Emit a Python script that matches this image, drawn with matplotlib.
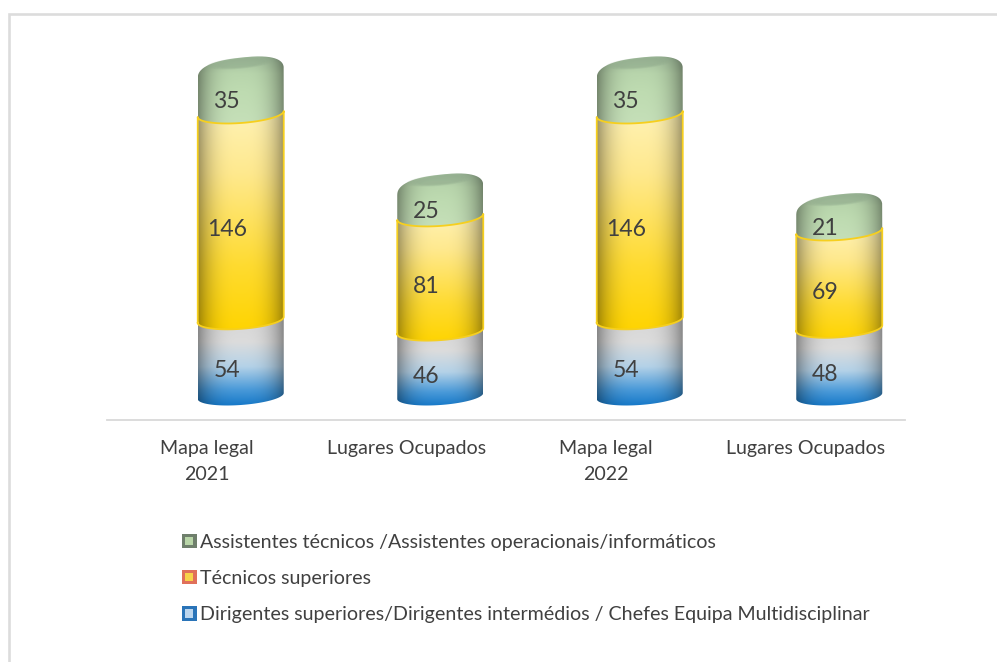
import numpy as np
import matplotlib
matplotlib.use("Agg")
import matplotlib.pyplot as plt
from matplotlib.path import Path
from matplotlib.patches import PathPatch, Rectangle, Patch
from matplotlib.legend_handler import HandlerBase
from matplotlib.colors import to_rgb

plt.rcParams['font.family'] = ['Lato', 'DejaVu Sans']

categories = ["Mapa legal\n2021", "Lugares Ocupados", "Mapa legal\n2022", "Lugares Ocupados"]
dirigentes = [54, 46, 54, 48]
tecnicos = [146, 81, 146, 69]
assistentes = [35, 25, 35, 21]
series_names = ["Assistentes técnicos /Assistentes operacionais/informáticos",
                "Técnicos superiores",
                "Dirigentes superiores/Dirigentes intermédios / Chefes Equipa Multidisciplinar"]
legend_outer = ["#6f7f6c", "#e0705a", "#2a74b8"]
legend_inner = ["#b9d6a8", "#f7d34a", "#bcd6ee"]

W, H = 997, 662
fig = plt.figure(figsize=(W/100, H/100), dpi=100, facecolor="white")
ax = fig.add_axes([107/W, 1-420/H, 798/W, 380/H])
PX_PER_UNIT = 1.41
BASE_PX = 24
ylim = (-BASE_PX/PX_PER_UNIT, (380-BASE_PX)/PX_PER_UNIT)
xlim = (-0.5, 3.5)
PX_X = 199.5
dx = 34/PX_X          # 3D depth shift of the bars
hw = 43/PX_X          # half width
eh = 9/PX_PER_UNIT    # ellipse half height
tilt = 3/PX_PER_UNIT  # right side higher than left


def arc(cx, cy, reverse=False):
    t = np.linspace(np.pi, 2*np.pi, 60)
    x = cx + hw*np.cos(t)
    y = cy + eh*np.sin(t) + tilt*np.cos(t)
    pts = np.column_stack([x, y])
    return pts[::-1] if reverse else pts


def dome(cx, cy, rise, n=2.5):
    """Rounded top, right side to left side, as a tilted superellipse."""
    t = np.linspace(0, np.pi, 160)
    c, s = np.cos(t), np.sin(t)
    u = np.sign(c)*np.abs(c)**(2/n)
    v = np.abs(s)**(2/n)
    return np.column_stack([cx + hw*u, cy + rise*v + 1.6*tilt*u])


def shade(stops, edge_dark=0.62, ny=200, nx=120):
    pos = [s[0] for s in stops]
    cols = np.array([to_rgb(s[1]) for s in stops])
    v = np.linspace(0, 1, ny)
    img = np.stack([np.interp(v, pos, cols[:, k]) for k in range(3)], axis=-1)
    u = np.linspace(-1, 1, nx)
    f = 1 - (1-edge_dark)*np.abs(u)**3.0
    return np.clip(img[:, None, :]*f[None, :, None], 0, 1)


def draw_image(img, path, x0, x1, y0, y1, z):
    patch = PathPatch(path, transform=ax.transData, fc="none", ec="none")
    ax.add_patch(patch)
    im = ax.imshow(img, extent=[x0, x1, y0, y1], origin="lower", aspect="auto",
                   zorder=z, interpolation="bilinear")
    im.set_clip_path(patch)


green = [(0, "#c6e0b9"), (0.5, "#bedbb1"), (0.75, "#b8d5ac"), (0.9, "#aac6a2"), (1, "#9ab596")]
gold = [(0, "#ffd400"), (0.3, "#ffdb30"), (0.72, "#ffe98e"), (1, "#fff2b4")]
blue = [(0, "#0f74c6"), (0.2, "#4a9ad9"), (0.45, "#b4d2e8"), (0.72, "#dcdcdc"), (1, "#d6d6d6")]

for i in range(len(categories)):
    cx = i + dx
    vals = [dirigentes[i], tecnicos[i], assistentes[i]]
    stops = [blue, gold, green]
    bottom = 0
    for j, v in enumerate(vals):
        top = bottom + v
        lo = arc(cx, bottom)
        if j < 2:
            up = arc(cx, top, reverse=True)
            ymax = top + tilt
        else:
            up = dome(cx, top - 9/PX_PER_UNIT, 16/PX_PER_UNIT)
            ymax = top + 8/PX_PER_UNIT
        pts = np.vstack([lo, up, lo[:1]])
        draw_image(shade(stops[j]), Path(pts), cx-hw, cx+hw, bottom-eh-tilt, ymax, 2+j)
        bottom = top
    # darker, soft inner top of the dome
    t = np.linspace(0, 2*np.pi, 120)
    for scale in (1.0, 0.9, 0.8, 0.7):
        capx = cx + scale*0.78*hw*np.cos(t)
        capy = bottom + 1.5/PX_PER_UNIT + scale*0.62*eh*np.sin(t) + tilt*scale*np.cos(t)
        ax.fill(capx, capy, color="#90aa8c", alpha=0.2, lw=0, zorder=7)
    # gold rims of the middle segment
    b0 = dirigentes[i]
    b1 = b0 + tecnicos[i]
    rim = np.vstack([arc(cx, b0), arc(cx, b1, reverse=True), arc(cx, b0)[:1]])
    ax.plot(rim[:, 0], rim[:, 1], color="#f6cf1e", lw=1.3, zorder=6, solid_joinstyle="round")
    # value labels
    running = 0
    for j, v in enumerate(vals):
        ax.annotate(str(v), (i + 20/PX_X, running + v/2), xytext=(0, -9), textcoords="offset points",
                    ha="center", va="center", fontsize=16.6, color="#404040", zorder=9)
        running += v

ax.set_xlim(*xlim)
ax.set_ylim(*ylim)
ax.set_xticks(range(len(categories)))
ax.set_xticklabels(categories, fontsize=14.1, color="#404040", linespacing=1.6)
ax.set_yticks([])
ax.tick_params(axis="x", length=0, pad=14.5)
for s in ["top", "left", "right"]:
    ax.spines[s].set_visible(False)
ax.spines["bottom"].set_color("#d9d9d9")
ax.spines["bottom"].set_linewidth(1.3)
ax.patch.set_alpha(0)


class BevelSquare(HandlerBase):
    def create_artists(self, legend, orig, xd, yd, width, height, fontsize, trans):
        s = min(width, height)
        outer = Rectangle((-xd, -yd), s, s, fc=orig.get_facecolor(), ec="none", transform=trans)
        k = s*0.22
        inner = Rectangle((-xd+k, -yd+k), s-2*k, s-2*k, fc=orig.get_edgecolor(), ec="none", transform=trans)
        return [outer, inner]


handles = [Patch(fc=o, ec=n) for o, n in zip(legend_outer, legend_inner)]
fig.legend(handles, series_names, loc="upper left", bbox_to_anchor=(182/W, 1-533.5/H),
           frameon=False, fontsize=14.16, labelcolor="#404040", labelspacing=0.98,
           handlelength=0.76, handleheight=0.76, handletextpad=0.14, borderpad=0, borderaxespad=0,
           handler_map={Patch: BevelSquare()})

fig.add_artist(Rectangle((9/W, -0.02), 1.2, 1-13.5/H+0.02, transform=fig.transFigure,
                         fc="none", ec="#dcdcdc", lw=1.9))
fig.savefig("out.png", dpi=100)
